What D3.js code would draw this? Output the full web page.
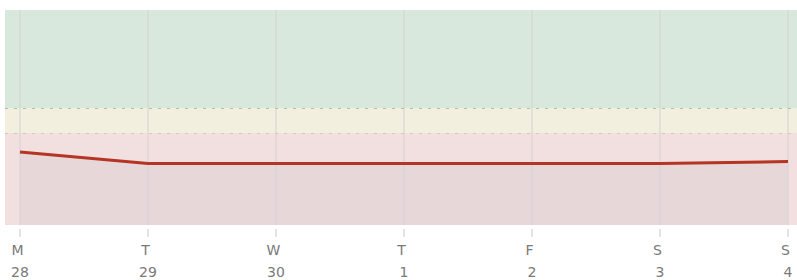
<!DOCTYPE html>
<html><head><meta charset="utf-8">
<script src="https://cdn.jsdelivr.net/npm/d3@7/dist/d3.min.js"></script>
<style>body{margin:0;background:#fff}svg{display:block;font-family:"DejaVu Sans",sans-serif}</style>
</head><body><svg id="c" width="797" height="280"></svg>
<script>
const days = ["M","T","W","T","F","S","S"];
const dates = ["28","29","30","1","2","3","4"];
const values = [34, 28.6, 28.6, 28.6, 28.6, 28.6, 29.5];
const bands = [
  {from: 54.4, to: 100, color: "#d9e8dd"},
  {from: 42.8, to: 54.4, color: "#f2efdf"},
  {from: 0, to: 42.8, color: "#f2dfe0"}
];
const thresholds = [{v: 54.4, color: "#a3c89e"}, {v: 42.8, color: "#e2c2c2"}];

(function(){
const svg = d3.select("#c");
const pLeft = 5, pRight = 797, pTop = 10, pBottom = 225;
const x = d3.scalePoint().domain(d3.range(days.length)).range([20, 788]);
const y = d3.scaleLinear().domain([0, 100]).range([pBottom, pTop]);

svg.selectAll("rect.band").data(bands).join("rect")
  .attr("x", pLeft).attr("width", pRight - pLeft)
  .attr("y", d => y(d.to)).attr("height", d => y(d.from) - y(d.to))
  .attr("fill", d => d.color);

svg.append("path").datum(values)
  .attr("d", d3.area().x((d,i) => x(i)).y0(pBottom).y1(d => y(d)))
  .attr("fill", "#dcd0d2").attr("opacity", 0.5);

svg.selectAll("line.grid").data(days).join("line")
  .attr("x1", (d,i) => x(i)).attr("x2", (d,i) => x(i))
  .attr("y1", pTop).attr("y2", pBottom)
  .attr("stroke", "#d2d2d2").attr("stroke-width", 1);

svg.selectAll("line.thr").data(thresholds).join("line")
  .attr("x1", pLeft).attr("x2", pRight)
  .attr("y1", d => Math.round(y(d.v)) + 0.5).attr("y2", d => Math.round(y(d.v)) + 0.5)
  .attr("stroke", d => d.color).attr("stroke-dasharray", "3,6");

svg.append("path").datum(values)
  .attr("d", d3.line().x((d,i) => x(i)).y(d => y(d)))
  .attr("fill", "none").attr("stroke", "#b53424").attr("stroke-width", 3);

const g = svg.append("g").attr("transform", `translate(0,${pBottom + 4})`);
g.selectAll("line.tick").data(days).join("line")
  .attr("x1", (d,i) => x(i)).attr("x2", (d,i) => x(i))
  .attr("y1", 0).attr("y2", 8).attr("stroke", "#c8c8c8");
svg.selectAll("text.day").data(days).join("text")
  .attr("x", (d,i) => x(i) - 2.5).attr("y", 255)
  .attr("text-anchor", "middle").attr("fill", "#7a7a7a").attr("font-size", 14)
  .text(d => d);
svg.selectAll("text.date").data(dates).join("text")
  .attr("x", (d,i) => x(i)).attr("y", 277)
  .attr("text-anchor", "middle").attr("fill", "#7a7a7a").attr("font-size", 14)
  .text(d => d);
})();
</script></body></html>
